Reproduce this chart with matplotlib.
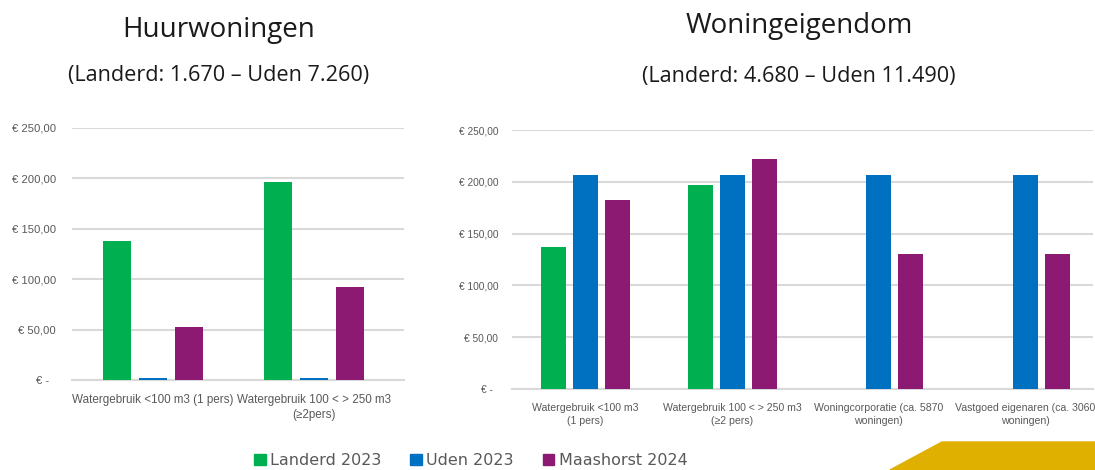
import matplotlib
matplotlib.use("Agg")
import matplotlib.pyplot as plt
import numpy as np
from matplotlib.patches import Patch, Polygon

SERIES = ["Landerd 2023", "Uden 2023", "Maashorst 2024"]
COL = ["#00B050", "#0070C0", "#8C1A73"]

# Huurwoningen
huur_cats = ["Watergebruik <100 m3 (1 pers)", "Watergebruik 100 < > 250 m3\n(≥2pers)"]
huur_landerd = [138, 196]
huur_uden = [2, 2]
huur_maashorst = [53, 92]

# Woningeigendom
eig_cats = ["Watergebruik <100 m3\n(1 pers)", "Watergebruik 100 < > 250 m3\n(≥2 pers)",
            "Woningcorporatie (ca. 5870\nwoningen)", "Vastgoed eigenaren (ca. 3060\nwoningen)"]
eig_landerd = [137, 197, np.nan, np.nan]
eig_uden = [207, 207, 207, 207]
eig_maashorst = [182, 222, 130, 130]

YTICKS = [0, 50, 100, 150, 200, 250]
YLABELS = ["€ -  ", "€ 50,00", "€ 100,00", "€ 150,00", "€ 200,00", "€ 250,00"]
TICKFONT = "Liberation Sans"
TITLEFONT = "Open Sans"

fig = plt.figure(figsize=(10.95, 4.70), dpi=100)


def draw(ax, cats, vals, width, step, yfs, xfs, xlim, ypad):
    x = np.arange(len(cats))
    for i, (v, c) in enumerate(zip(vals, COL)):
        ax.bar(x + (i - 1) * step, v, width, color=c, zorder=3)
    ax.set_xlim(*xlim)
    ax.set_ylim(0, 250)
    ax.set_yticks(YTICKS)
    ax.set_yticklabels(YLABELS, fontsize=yfs, color="#595959", family=TICKFONT)
    ax.set_xticks(x)
    ax.set_xticklabels(cats, fontsize=xfs, color="#595959", family=TICKFONT, linespacing=1.4)
    ax.tick_params(length=0, axis="y", pad=ypad)
    ax.tick_params(length=0, axis="x", pad=10)
    ax.grid(axis="y", color="#D9D9D9", lw=1.5, zorder=0)
    for s in ["top", "right", "left"]:
        ax.spines[s].set_visible(False)
    ax.spines["bottom"].set_color("#D9D9D9")
    ax.spines["bottom"].set_linewidth(1.5)


ax1 = fig.add_axes([0.0662, 0.1915, 0.3032, 0.5362])
draw(ax1, huur_cats, [huur_landerd, huur_uden, huur_maashorst], 0.175, 0.223, 8.1, 8.4, (-0.5, 1.56), 12)

ax2 = fig.add_axes([0.4676, 0.1723, 0.5306, 0.5511])
draw(ax2, eig_cats, [eig_landerd, eig_uden, eig_maashorst], 0.17, 0.218, 7.3, 7.6, (-0.5, 3.46), 10)

kw = dict(ha="center", va="baseline", family=TITLEFONT, color="#1a1a1a")
fig.text(0.200, 0.9213, "Huurwoningen", fontsize=20, **kw)
fig.text(0.1995, 0.8277, "(Landerd: 1.670 – Uden 7.260)", fontsize=15.6, **kw)
fig.text(0.7297, 0.9298, "Woningeigendom", fontsize=20, **kw)
fig.text(0.729, 0.826, "(Landerd: 4.680 – Uden 11.490)", fontsize=15.6, **kw)

handles = [Patch(color=c, label=s) for s, c in zip(SERIES, COL)]
fig.legend(handles=handles, loc="center", bbox_to_anchor=(0.43, 0.02), ncol=3, frameon=False,
           fontsize=11.5, labelcolor="#595959", handlelength=0.7, handleheight=0.7,
           handletextpad=0.3, columnspacing=1.8)

fig.patches.append(Polygon([(890 / 1095, 0), (942 / 1095, 28 / 470), (1, 28 / 470), (1, 0)],
                           closed=True, transform=fig.transFigure, color="#E0B000", zorder=0))

fig.savefig("out.png", dpi=100)
